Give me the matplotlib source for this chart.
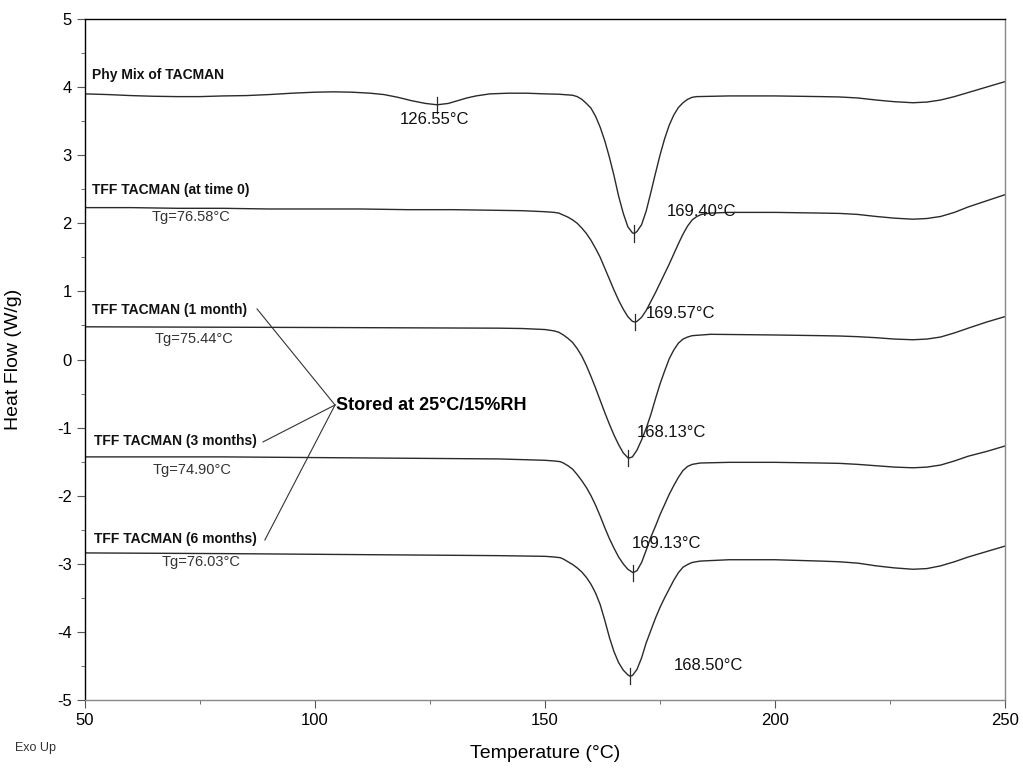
import matplotlib
matplotlib.use("Agg")
import matplotlib.pyplot as plt
from matplotlib.ticker import MultipleLocator

plt.rcParams['font.family'] = ['Liberation Sans', 'DejaVu Sans']
plt.rcParams['axes.unicode_minus'] = False

# ---- data ----
t_phy = [50, 55, 60, 65, 70, 75, 80, 85, 90, 95, 100, 104, 108, 112, 115, 118, 121, 124, 126.55, 129, 131, 133, 135,
         138, 142, 146, 150, 153, 156, 157, 158, 159, 160, 161, 162, 163, 164, 165, 166, 167, 168, 169, 169.4,
         170, 171, 172, 173, 174, 175, 176, 177, 178, 179, 180, 181, 182, 183,
         190, 200, 205, 210, 214, 218, 222, 226, 230, 233, 236, 239, 242, 246, 250]
hf_phy = [3.90, 3.89, 3.875, 3.865, 3.86, 3.86, 3.87, 3.875, 3.89, 3.91, 3.925, 3.93, 3.925, 3.91, 3.89, 3.85, 3.80, 3.76, 3.74, 3.76, 3.80, 3.84, 3.87,
          3.90, 3.91, 3.91, 3.90, 3.895, 3.88, 3.86, 3.82, 3.76, 3.69, 3.57, 3.41, 3.21, 2.97, 2.70, 2.40, 2.15, 1.95, 1.86, 1.85,
          1.88, 1.98, 2.18, 2.45, 2.73, 3.00, 3.24, 3.44, 3.59, 3.70, 3.77, 3.82, 3.85, 3.86,
          3.87, 3.87, 3.865, 3.86, 3.855, 3.84, 3.81, 3.785, 3.77, 3.78, 3.81, 3.86, 3.92, 4.00, 4.08]

t_t0 = [50, 60, 70, 80, 90, 100, 110, 120, 130, 140, 145, 150, 152, 153, 154, 155, 156, 157, 158, 159, 160, 161, 162,
        163, 164, 165, 166, 167, 168, 169, 169.57, 170, 171, 172, 173, 174, 175, 176, 177, 178, 179, 180, 181, 182,
        183, 184, 186, 190, 200, 210, 214, 218, 222, 226, 230, 233, 236, 239, 242, 246, 250]
hf_t0 = [2.23, 2.23, 2.22, 2.22, 2.21, 2.21, 2.21, 2.20, 2.20, 2.19, 2.185, 2.17, 2.16, 2.15, 2.12, 2.09, 2.05, 2.00, 1.93, 1.85, 1.75, 1.63, 1.50,
         1.34, 1.18, 1.02, 0.87, 0.74, 0.63, 0.56, 0.55, 0.56, 0.62, 0.72, 0.85, 0.98, 1.12, 1.26, 1.40, 1.55, 1.70, 1.84, 1.96, 2.05,
         2.10, 2.13, 2.15, 2.16, 2.16, 2.15, 2.145, 2.13, 2.10, 2.075, 2.06, 2.07, 2.10, 2.16, 2.24, 2.33, 2.42]

t_m1 = [50, 75, 100, 120, 140, 145, 150, 152, 153, 154, 155, 156, 157, 158, 159, 160, 161, 162, 163, 164, 165, 166, 167,
        168.13, 169, 170, 171, 172, 173, 174, 175, 176, 177, 178, 179, 180, 181, 182, 184, 186,
        200, 210, 214, 218, 222, 226, 230, 233, 236, 239, 242, 246, 250]
hf_m1 = [0.48, 0.475, 0.47, 0.465, 0.46, 0.455, 0.44, 0.42, 0.40, 0.36, 0.31, 0.25, 0.16, 0.05, -0.09, -0.25, -0.42, -0.60, -0.78, -0.95, -1.11, -1.25, -1.37,
         -1.45, -1.43, -1.33, -1.18, -1.01, -0.81, -0.58, -0.36, -0.17, 0.01, 0.14, 0.24, 0.30, 0.33, 0.35, 0.36, 0.37,
         0.36, 0.35, 0.345, 0.335, 0.32, 0.30, 0.29, 0.30, 0.33, 0.39, 0.46, 0.55, 0.63]

t_m3 = [50, 80, 100, 120, 140, 150, 152, 153.3, 154, 155, 156, 157, 158, 159, 160, 161, 162, 163, 164, 165, 166, 167, 168,
        169.13, 170, 171, 172, 173, 174, 175, 176, 177, 178, 179, 180, 181, 182, 183.7,
        190, 200, 210, 214, 218, 222, 226, 230, 233, 236, 239, 242, 246, 250]
hf_m3 = [-1.43, -1.43, -1.44, -1.45, -1.46, -1.48, -1.49, -1.50, -1.52, -1.56, -1.61, -1.69, -1.78, -1.88, -2.00, -2.14, -2.30, -2.47, -2.63, -2.77, -2.90, -3.00, -3.08,
         -3.13, -3.10, -2.98, -2.80, -2.61, -2.45, -2.28, -2.13, -1.98, -1.85, -1.73, -1.63, -1.57, -1.54, -1.52,
         -1.51, -1.51, -1.52, -1.525, -1.54, -1.56, -1.58, -1.59, -1.58, -1.55, -1.49, -1.42, -1.35, -1.27]

t_m6 = [50, 80, 100, 120, 140, 150, 152, 153.3, 154, 155, 156, 157, 158, 159, 160, 161, 162, 163, 164, 165, 166, 167, 168,
        168.5, 169, 170, 171, 172, 173, 174, 175, 176, 177, 178, 179, 180, 181, 182, 183.7,
        190, 200, 210, 214, 218, 222, 226, 230, 233, 236, 239, 242, 246, 250]
hf_m6 = [-2.84, -2.85, -2.86, -2.87, -2.88, -2.89, -2.90, -2.91, -2.93, -2.97, -3.01, -3.06, -3.12, -3.20, -3.30, -3.43, -3.60, -3.83, -4.08, -4.29, -4.45, -4.56, -4.63,
         -4.65, -4.64, -4.55, -4.38, -4.16, -3.98, -3.80, -3.64, -3.50, -3.37, -3.24, -3.13, -3.05, -3.01, -2.98, -2.96,
         -2.94, -2.94, -2.96, -2.97, -2.99, -3.03, -3.06, -3.08, -3.07, -3.03, -2.97, -2.90, -2.82, -2.74]

curve_names = ["Phy Mix of TACMAN", "TFF TACMAN (at time 0)", "TFF TACMAN (1 month)",
               "TFF TACMAN (3 months)", "TFF TACMAN (6 months)"]
tg_labels = [None, "Tg=76.58°C", "Tg=75.44°C", "Tg=74.90°C", "Tg=76.03°C"]
peak_t = [126.55, 169.40, 169.57, 168.13, 169.13, 168.50]
peak_hf = [3.74, 1.85, 0.55, -1.45, -3.13, -4.65]
peak_labels = ["126.55°C", "169.40°C", "169.57°C", "168.13°C", "169.13°C", "168.50°C"]

# ---- figure ----
fig = plt.figure(figsize=(10.23, 7.68), dpi=100)
ax = fig.add_axes([0.0831, 0.0885, 0.8993, 0.8868])

line_col = '#2a2a2a'
for t, h in [(t_phy, hf_phy), (t_t0, hf_t0), (t_m1, hf_m1), (t_m3, hf_m3), (t_m6, hf_m6)]:
    ax.plot(t, h, color=line_col, lw=1.0)

# peak markers
for pt, ph in zip(peak_t, peak_hf):
    ax.plot([pt, pt], [ph - 0.12, ph + 0.12], color=line_col, lw=0.9)

ax.set_xlim(50, 250)
ax.set_ylim(-5, 5)
ax.xaxis.set_major_locator(MultipleLocator(50))
ax.xaxis.set_minor_locator(MultipleLocator(25))
ax.yaxis.set_major_locator(MultipleLocator(1))
ax.yaxis.set_minor_locator(MultipleLocator(0.5))
ax.tick_params(axis='both', which='major', length=6, labelsize=12, direction='out', color='#555555')
ax.tick_params(axis='both', which='minor', length=3, direction='out', color='#555555')
ax.spines['top'].set_color('black')
ax.spines['left'].set_color('black')
ax.spines['right'].set_color('#888888')
ax.spines['bottom'].set_color('#888888')
for s in ax.spines.values():
    s.set_linewidth(1.0)

ax.set_xlabel("Temperature (°C)", fontsize=14)
ax.set_ylabel("Heat Flow (W/g)", fontsize=14)
ax.xaxis.set_label_coords(0.5, -0.066)
ax.yaxis.set_label_coords(-0.0685, 0.5)

# curve names
name_pos = [(51.5, 4.18), (51.5, 2.49), (51.5, 0.73), (52.0, -1.20), (52.0, -2.64)]
for (x, y), name in zip(name_pos, curve_names):
    ax.text(x, y, name, fontsize=10, fontweight='bold', va='center', ha='left', color='#111111')

tg_pos = [None, (64.5, 2.09), (65.2, 0.30), (64.8, -1.62), (66.7, -2.97)]
for pos, lab in zip(tg_pos, tg_labels):
    if lab:
        ax.text(pos[0], pos[1], lab, fontsize=10.5, va='center', ha='left', color='#333333')

# peak labels
plab_pos = [(118.5, 3.52), (176.5, 2.17), (172.0, 0.68), (170.0, -1.07), (168.9, -2.70), (178.0, -4.49)]
for (x, y), lab in zip(plab_pos, peak_labels):
    ax.text(x, y, lab, fontsize=12, va='center', ha='left', color='#111111')

# stored annotation with leader lines
hub = (104.35, -0.668)
for end in [(87.4, 0.742), (88.7, -1.21), (89.1, -2.65)]:
    ax.plot([end[0], hub[0]], [end[1], hub[1]], color='#333333', lw=0.8)
ax.text(104.5, -0.68, "Stored at 25°C/15%RH", fontsize=13, fontweight='bold', va='center', ha='left')

fig.text(15 / 1023, 1 - 748 / 768, "Exo Up", fontsize=9, color='#333333', va='center', ha='left')

fig.savefig("out.png", dpi=100)
